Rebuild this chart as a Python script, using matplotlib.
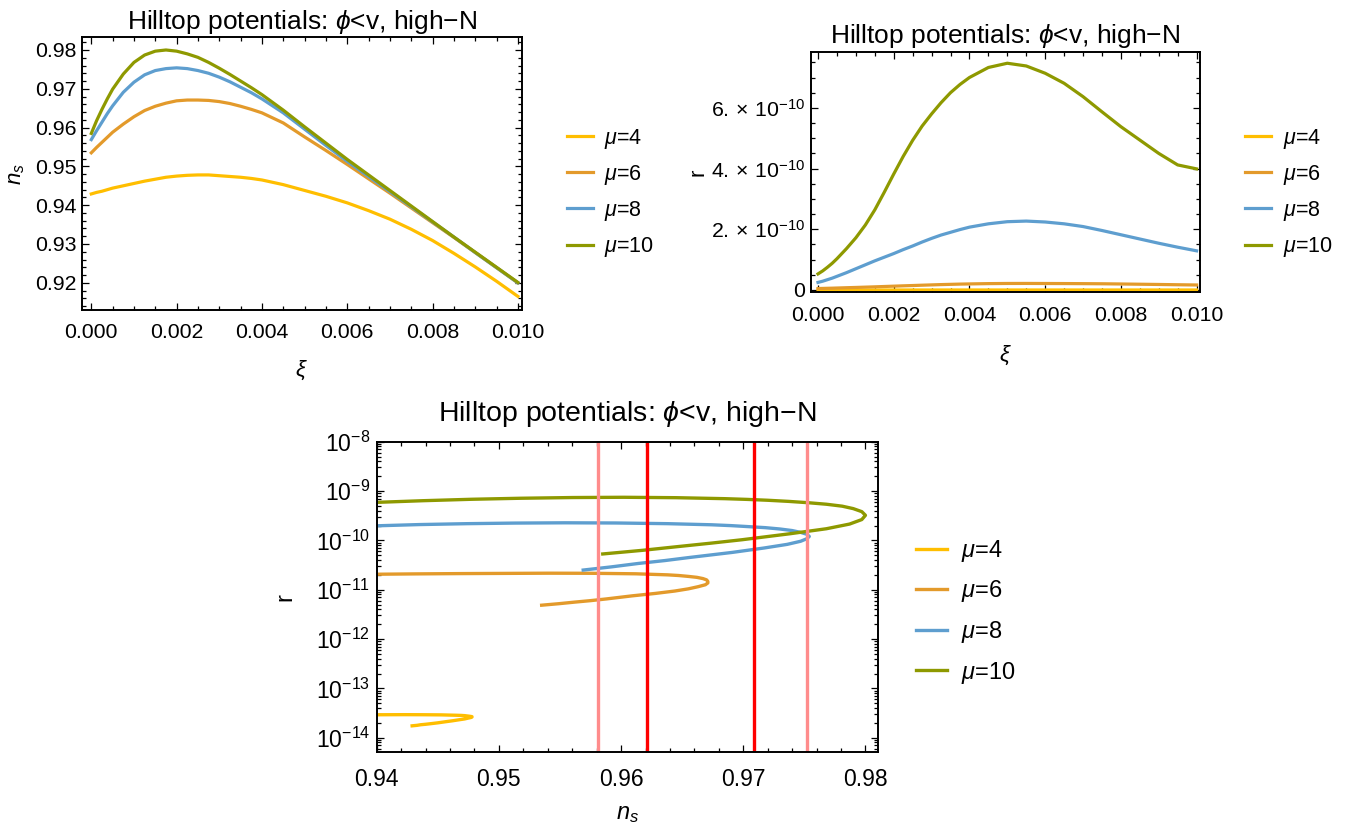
import matplotlib
matplotlib.use("Agg")
import matplotlib.pyplot as plt
from matplotlib.ticker import (MultipleLocator, FormatStrFormatter, FixedLocator,
                               FixedFormatter, NullFormatter)

plt.rcParams['font.family'] = ['Liberation Sans', 'DejaVu Sans']
plt.rcParams['mathtext.fontset'] = 'custom'
plt.rcParams['mathtext.rm'] = 'Liberation Sans'
plt.rcParams['mathtext.it'] = 'Liberation Sans:italic'
plt.rcParams['mathtext.fallback'] = 'stixsans'

# non-minimal coupling values along each curve
xi = [0.0, 0.000125, 0.00025, 0.000375, 0.0005, 0.00075, 0.001, 0.00125, 0.0015,
      0.00175, 0.002, 0.00225, 0.0025, 0.00275, 0.003, 0.00325, 0.0035, 0.00375,
      0.004, 0.0045, 0.005, 0.0055, 0.006, 0.0065, 0.007, 0.0075, 0.008, 0.0085,
      0.009, 0.0095, 0.010]

mu_labels = [r'$\mu$=4', r'$\mu$=6', r'$\mu$=8', r'$\mu$=10']
colors = ['#FFBE00', '#E39A2B', '#5E9ECF', '#8E9900']

# spectral index n_s(xi)
ns_mu4 = [0.9429, 0.9433, 0.9436, 0.9440, 0.9444, 0.9450, 0.9456, 0.9462, 0.9467,
          0.9472, 0.9475, 0.9477, 0.9478, 0.9478, 0.9476, 0.9474, 0.9472, 0.9469,
          0.9465, 0.9453, 0.9438, 0.9423, 0.9406, 0.9386, 0.9364, 0.9338, 0.9309,
          0.9276, 0.9241, 0.9204, 0.9165]
ns_mu6 = [0.9535, 0.9549, 0.9562, 0.9575, 0.9588, 0.9609, 0.9628, 0.9644, 0.9655,
          0.9663, 0.9669, 0.9671, 0.9671, 0.9670, 0.9667, 0.9662, 0.9655, 0.9647,
          0.9638, 0.9612, 0.9576, 0.9541, 0.9505, 0.9468, 0.9431, 0.9393, 0.9355,
          0.9317, 0.9278, 0.9239, 0.9200]
ns_mu8 = [0.9569, 0.9592, 0.9614, 0.9636, 0.9656, 0.9691, 0.9717, 0.9736, 0.9747,
          0.9752, 0.9754, 0.9752, 0.9747, 0.9740, 0.9730, 0.9718, 0.9704, 0.9690,
          0.9674, 0.9638, 0.9596, 0.9554, 0.9513, 0.9474, 0.9435, 0.9396, 0.9357,
          0.9318, 0.9278, 0.9239, 0.9200]
ns_mu10 = [0.9585, 0.9618, 0.9647, 0.9674, 0.9699, 0.9738, 0.9768, 0.9787, 0.9797,
           0.9800, 0.9797, 0.9790, 0.9781, 0.9768, 0.9753, 0.9737, 0.9720, 0.9703,
           0.9685, 0.9645, 0.9602, 0.9560, 0.9518, 0.9478, 0.9438, 0.9398, 0.9358,
           0.9318, 0.9279, 0.9240, 0.9201]

# tensor-to-scalar ratio r(xi)
r_mu4 = [v * 1e-14 for v in
         [1.74, 1.78, 1.83, 1.87, 1.92, 2.00, 2.10, 2.20, 2.30, 2.40, 2.50, 2.56, 2.62,
          2.67, 2.72, 2.76, 2.80, 2.83, 2.85, 2.90, 2.92, 2.93, 2.92, 2.90, 2.88, 2.84,
          2.80, 2.76, 2.72, 2.67, 2.62]]
r_mu6 = [v * 1e-11 for v in
         [0.485, 0.52, 0.56, 0.60, 0.65, 0.75, 0.84, 0.94, 1.04, 1.15, 1.26, 1.37, 1.47,
          1.58, 1.68, 1.78, 1.86, 1.94, 2.00, 2.10, 2.15, 2.16, 2.14, 2.12, 2.09, 2.05,
          1.98, 1.90, 1.82, 1.73, 1.65]]
r_mu8 = [v * 1e-10 for v in
         [0.25, 0.29, 0.34, 0.39, 0.45, 0.57, 0.70, 0.83, 0.96, 1.08, 1.20, 1.33, 1.45,
          1.58, 1.70, 1.81, 1.90, 1.99, 2.07, 2.18, 2.25, 2.27, 2.24, 2.18, 2.09, 1.96,
          1.82, 1.68, 1.54, 1.41, 1.29]]
r_mu10 = [v * 1e-10 for v in
          [0.53, 0.63, 0.75, 0.88, 1.03, 1.36, 1.72, 2.14, 2.64, 3.22, 3.82, 4.40, 4.93,
           5.40, 5.80, 6.17, 6.50, 6.77, 7.00, 7.33, 7.47, 7.38, 7.14, 6.81, 6.37, 5.87,
           5.38, 4.94, 4.50, 4.12, 3.99]]

ns_all = [ns_mu4, ns_mu6, ns_mu8, ns_mu10]
r_all = [r_mu4, r_mu6, r_mu8, r_mu10]

# Planck bounds on n_s
ns_1sigma = [0.9621, 0.9709]
ns_2sigma = [0.9581, 0.9752]

# decades shown on the log axis
log_decades = [-14, -13, -12, -11, -10, -9, -8]

title = 'Hilltop potentials: $\\phi$<v, high\u2212N'
W, H = 1351, 833


def frame(ax, fs):
    ax.tick_params(which='both', direction='in', top=True, right=True,
                   labelsize=fs, width=0.9, colors='black')
    ax.tick_params(which='major', length=5)
    ax.tick_params(which='minor', length=2.6)
    for s in ax.spines.values():
        s.set_linewidth(1.4)


def px(l, t, r, b):
    return [l / W, 1 - b / H, (r - l) / W, (b - t) / H]


fig = plt.figure(figsize=(W / 100, H / 100), dpi=100)

# top left: n_s against xi
ax1 = fig.add_axes(px(82, 37.3, 521.7, 310))
for ns, c, lab in zip(ns_all, colors, mu_labels):
    ax1.plot(xi, ns, color=c, lw=2.3, label=lab)
ax1.set_xlim(-0.000218, 0.01009)
ax1.set_ylim(0.91299, 0.98327)
ax1.xaxis.set_major_locator(MultipleLocator(0.002))
ax1.xaxis.set_minor_locator(MultipleLocator(0.0005))
ax1.xaxis.set_major_formatter(FormatStrFormatter('%.3f'))
ax1.yaxis.set_major_locator(MultipleLocator(0.01))
ax1.yaxis.set_minor_locator(MultipleLocator(0.002))
ax1.yaxis.set_major_formatter(FormatStrFormatter('%.2f'))
frame(ax1, 15.3)
ax1.tick_params(axis='x', pad=9)
ax1.tick_params(axis='y', pad=3.6)
ax1.set_title(title, fontsize=19, pad=6)
ax1.set_xlabel(r'$\xi$', fontsize=16)
ax1.xaxis.set_label_coords(0.5, -0.22)
ax1.xaxis.label.set_va('center')
ax1.set_ylabel(r'$n_s$', fontsize=16)
ax1.yaxis.set_label_coords(-0.148, 0.5)
ax1.yaxis.label.set_va('center')
ax1.legend(loc='center left', bbox_to_anchor=(566.7 / W, 1 - 193 / H),
           bbox_transform=fig.transFigure, frameon=False, fontsize=15.5,
           handlelength=1.2, handletextpad=0.55, labelspacing=0.56,
           borderpad=0, borderaxespad=0)

# top right: r against xi
ax2 = fig.add_axes(px(810.7, 51.7, 1200, 292.3))
for r, c, lab in zip(r_all, colors, mu_labels):
    ax2.plot(xi, r, color=c, lw=2.3, label=lab)
ax2.set_xlim(-0.000193, 0.01009)
ax2.set_ylim(-7.6e-12, 7.85e-10)
ax2.xaxis.set_major_locator(MultipleLocator(0.002))
ax2.xaxis.set_minor_locator(MultipleLocator(0.0005))
ax2.xaxis.set_major_formatter(FormatStrFormatter('%.3f'))
r_ticks = [0, 2e-10, 4e-10, 6e-10]
r_tick_labels = ['0', r'$\mathregular{2.\times\,10^{-10}}$',
                 r'$\mathregular{4.\times\,10^{-10}}$',
                 r'$\mathregular{6.\times\,10^{-10}}$']
ax2.yaxis.set_major_locator(FixedLocator(r_ticks))
ax2.yaxis.set_major_formatter(FixedFormatter(r_tick_labels))
ax2.yaxis.set_minor_locator(MultipleLocator(0.5e-10))
frame(ax2, 15.3)
ax2.tick_params(axis='x', pad=10)
ax2.tick_params(axis='y', pad=4)
ax2.set_title(title, fontsize=19, pad=6)
ax2.set_xlabel(r'$\xi$', fontsize=16)
ax2.xaxis.set_label_coords(0.5, -0.26)
ax2.xaxis.label.set_va('center')
ax2.set_ylabel('r', fontsize=16)
ax2.yaxis.set_label_coords(-0.29, 0.5)
ax2.yaxis.label.set_va('center')
ax2.legend(loc='center left', bbox_to_anchor=(1245 / W, 1 - 193 / H),
           bbox_transform=fig.transFigure, frameon=False, fontsize=15.5,
           handlelength=1.2, handletextpad=0.55, labelspacing=0.56,
           borderpad=0, borderaxespad=0)

# bottom: r against n_s with Planck bounds
ax3 = fig.add_axes(px(376.7, 441.7, 878.3, 751.7))
for ns, r, c, lab in zip(ns_all, r_all, colors, mu_labels):
    ax3.plot(ns, r, color=c, lw=2.4, label=lab)
for v in ns_2sigma:
    ax3.axvline(v, color='#FF8C8C', lw=2.4)
for v in ns_1sigma:
    ax3.axvline(v, color='#FF0000', lw=2.4)
ax3.set_yscale('log')
ax3.set_xlim(0.94, 0.98105)
ax3.set_ylim(5.2e-15, 1e-8)
ax3.xaxis.set_major_locator(MultipleLocator(0.01))
ax3.xaxis.set_minor_locator(MultipleLocator(0.002))
ax3.xaxis.set_major_formatter(FormatStrFormatter('%.2f'))
major_r = [10.0 ** d for d in log_decades]
minor_r = [k * 10.0 ** d for d in [-15] + log_decades[:-1] for k in range(2, 10)]
minor_r = [v for v in minor_r if 5.2e-15 <= v <= 1e-8]
ax3.yaxis.set_major_locator(FixedLocator(major_r))
ax3.yaxis.set_major_formatter(
    FixedFormatter([r'$\mathregular{10^{%d}}$' % d for d in log_decades]))
ax3.yaxis.set_minor_locator(FixedLocator(minor_r))
ax3.yaxis.set_minor_formatter(NullFormatter())
frame(ax3, 16.5)
ax3.tick_params(axis='x', pad=11.5)
ax3.tick_params(axis='y', pad=4.8)
ax3.set_title(title, fontsize=20.5, pad=15)
ax3.set_xlabel(r'$n_s$', fontsize=17)
ax3.xaxis.set_label_coords(0.5, -0.2)
ax3.xaxis.label.set_va('center')
ax3.set_ylabel('r', fontsize=17)
ax3.yaxis.set_label_coords(-0.183, 0.5)
ax3.yaxis.label.set_va('center')
ax3.legend(loc='center left', bbox_to_anchor=(916 / W, 1 - 611.8 / H),
           bbox_transform=fig.transFigure, frameon=False, fontsize=17,
           handlelength=1.3, handletextpad=0.6, labelspacing=0.62,
           borderpad=0, borderaxespad=0)

fig.savefig('out.png', dpi=100)
